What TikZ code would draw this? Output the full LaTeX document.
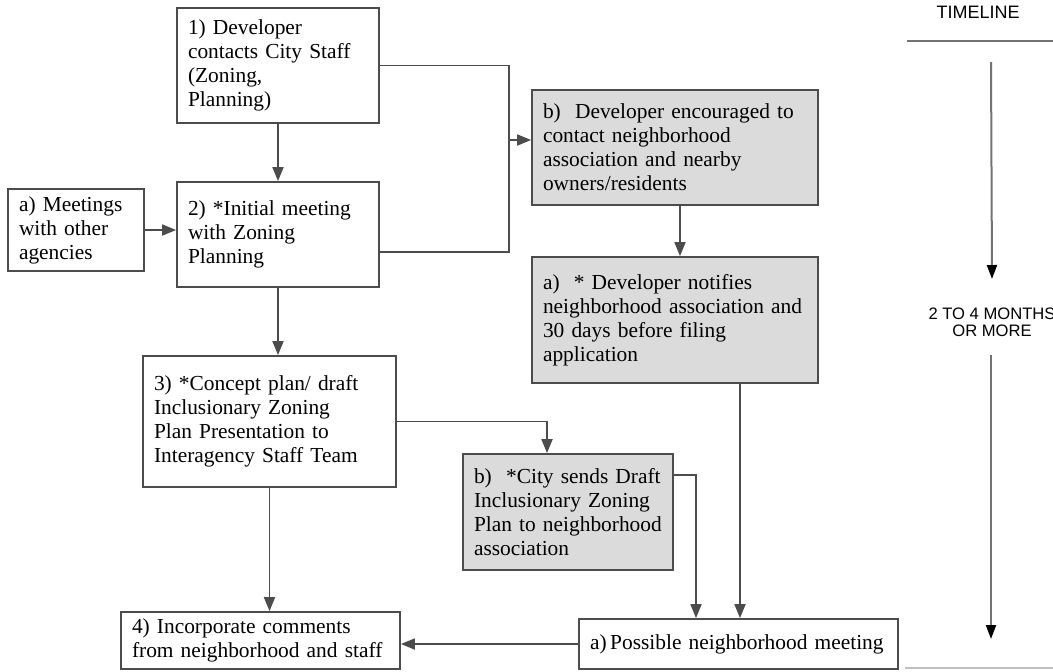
\documentclass[tikz,border=0pt]{standalone}
\usepackage{fontspec}
\setmainfont{Liberation Serif}
\newfontfamily\arialfont{Liberation Sans}
\usetikzlibrary{arrows.meta,calc}

\begin{document}
\begin{tikzpicture}[x=0.5pt, y=-0.5pt, >={Triangle[length=7pt,width=5.5pt]},
	box/.style={draw=black!70, line width=0.9pt, fill=white, align=left, inner xsep=5.5pt, inner ysep=0pt, font=\fontsize{10.7}{12}\selectfont},
	graybox/.style={box, fill=black!14},
	link/.style={draw=black!70, line width=0.9pt},
	tline/.style={draw=black!55, line width=1pt},
	tarrow/.style={-{Triangle[length=7pt,width=5pt,black]}},
	tfont/.style={font=\arialfont\fontsize{8.3}{8.6}\selectfont}]
\useasboundingbox (0,0) rectangle (1053,671);

\node [box, text width=90pt, minimum height=57.5pt] (contact) at (278,65.5)
	{1) Developer\\contacts City Staff\\(Zoning,\\Planning)};
\node [box, text width=90pt, minimum height=52.5pt] (initial) at (278,234.5)
	{2) *Initial meeting\\with Zoning\\Planning};
\node [box, text width=57pt, minimum height=41pt] (agencies) at (76,230)
	{a) Meetings\\with other\\agencies};
\node [graybox, text width=132pt, minimum height=57.5pt] (encourage) at (675,147.5)
	{b)~ Developer encouraged to\\contact neighborhood\\association and nearby\\owners/residents};
\node [graybox, text width=132pt, minimum height=63pt] (notify) at (675,320)
	{a)~ * Developer notifies\\neighborhood association and\\30 days before filing\\application};
\node [box, text width=115.5pt, minimum height=65.5pt] (concept) at (269.5,421.5)
	{3) *Concept plan/ draft\\Inclusionary Zoning\\Plan Presentation to\\Interagency Staff Team};
\node [graybox, text width=94pt, minimum height=58pt] (draft) at (568,512)
	{b)~ *City sends Draft\\Inclusionary Zoning\\Plan to neighborhood\\association};
\node [box, text width=128.5pt, minimum height=28.5pt] (comments) at (260.5,640.5)
	{4) Incorporate comments\\from neighborhood and staff};
\node [box, text width=148.5pt, minimum height=25pt] (meeting) at (738.5,644)
	{a)\,Possible neighborhood meeting};

\coordinate (split) at (509,140);
\draw [link, ->] (contact.south) -- (initial.north);
\draw [link, ->] (agencies.east) -- (agencies.east -| initial.west);
\draw [link] (contact.east) -| (split) |- ($(initial.east)+(0,17.5)$);
\draw [link, ->] (split) -- (split -| encourage.west);
\draw [link, ->] ($(encourage.south)+(5,0)$) -- ($(notify.north)+(5,0)$);
\draw [link, ->] ($(notify.south)+(65,0)$) -- ($(meeting.north)+(1.5,0)$);
\draw [link, ->] (initial.south) -- (initial.south |- concept.north);
\draw [link, ->] (concept.east) -| ($(draft.north)+(-21,0)$);
\draw [link, ->] (concept.south) -- (concept.south |- comments.north);
\draw [link, ->] ($(draft.north east)+(0,22)$) -| ($(meeting.north)+(-42.5,0)$);
\draw [link, ->] (meeting.west) -- (meeting.west -| comments.east);

\node [tfont, font=\arialfont\fontsize{9}{10}\selectfont] (timeline) at (978,12) {TIMELINE};
\node [tfont, align=center] (span) at (992,322) {2 TO 4 MONTHS\\OR MORE};
\coordinate (ruleL) at (907,41);
\coordinate (ruleR) at (1053,41);
\coordinate (endL) at (905,668);
\coordinate (endR) at (1053,668);
\draw [tline] (ruleL) -- (ruleR);
\draw [tline, tarrow] (991,62) -- (span.north |- 0,279);
\draw [tline, tarrow] (991,355) -- (991,639);
\draw [black!25, line width=1pt] (endL) -- (endR);

\end{tikzpicture}
\end{document}
